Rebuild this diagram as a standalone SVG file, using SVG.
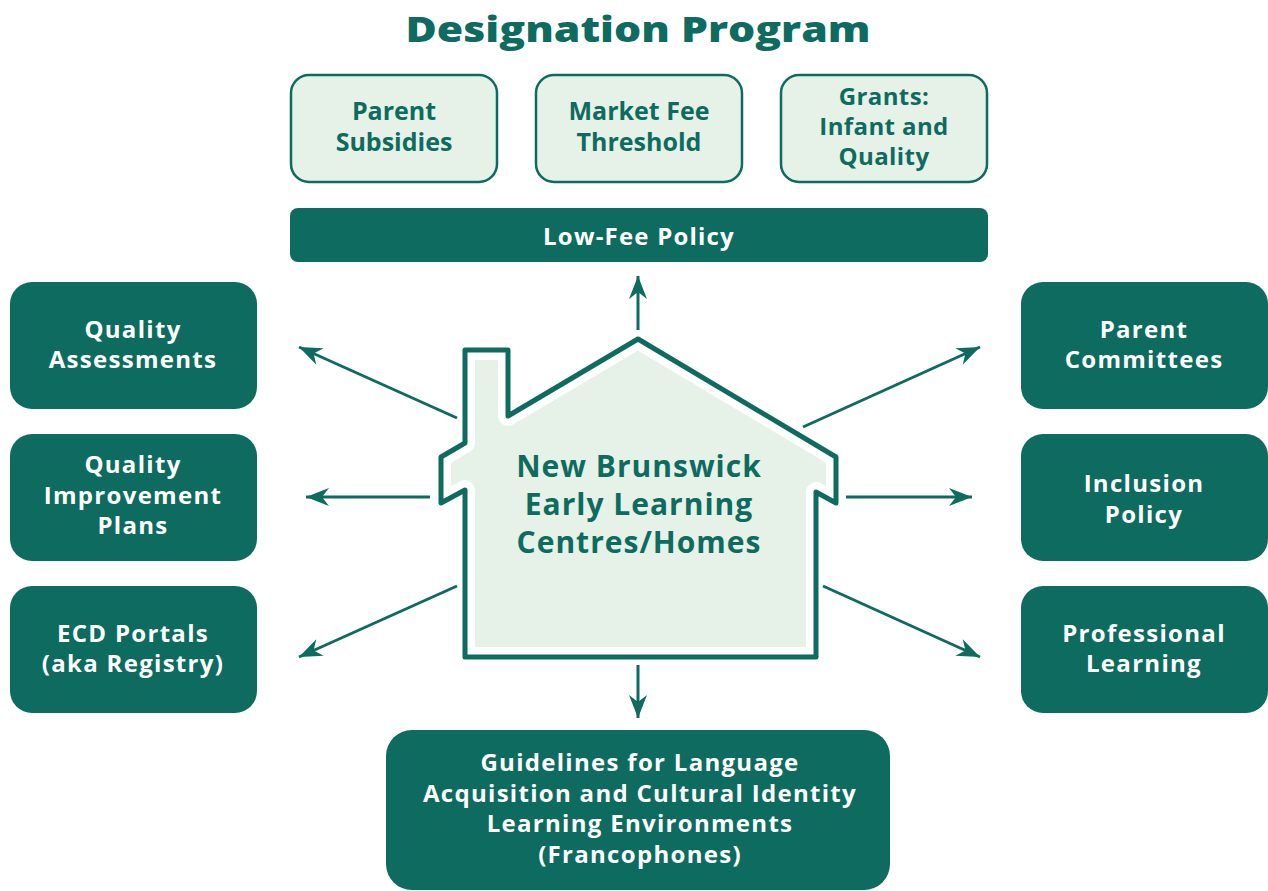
<svg xmlns="http://www.w3.org/2000/svg" width="1268" height="891" viewBox="0 0 1268 891">
<defs>
<style>
.dark{fill:#0e6b5f}
.light{fill:#e6f2e8;stroke:#0e6b5f;stroke-width:2.5}
.wt{fill:#ffffff;font-family:"Open Sans","Liberation Sans",sans-serif;font-weight:700;font-size:24px;letter-spacing:1.3px;text-anchor:middle}
.gt{fill:#0e6b5f;font-family:"Open Sans","Liberation Sans",sans-serif;font-weight:700;font-size:25px;text-anchor:middle}
.conn{stroke:#0e6b5f;stroke-width:3;fill:none;marker-end:url(#ah)}
</style>
<marker id="ah" markerUnits="userSpaceOnUse" viewBox="-24 -10 26 20" refX="0" refY="0" markerWidth="26" markerHeight="20" orient="auto">
<path d="M0,0 L-23,-9 L-16,0 L-23,9 Z" fill="#0e6b5f"/>
</marker>
</defs>
<rect width="1268" height="891" fill="#ffffff"/>
<text x="638" y="42" style="fill:#0e6b5f;font-family:'Open Sans','Liberation Sans',sans-serif;font-weight:800;font-size:36px;text-anchor:middle" textLength="465" lengthAdjust="spacingAndGlyphs">Designation Program</text>

<g id="parent-subsidies">
<rect class="light" x="291" y="75" width="206" height="107" rx="18"/>
<text class="gt" x="394" y="120">Parent</text>
<text class="gt" x="394" y="151">Subsidies</text>
</g>
<g id="market-fee">
<rect class="light" x="536" y="75" width="206" height="107" rx="18"/>
<text class="gt" x="639" y="120">Market Fee</text>
<text class="gt" x="639" y="151">Threshold</text>
</g>
<g id="grants">
<rect class="light" x="781" y="75" width="206" height="107" rx="18"/>
<text class="gt" x="884" y="105" style="font-size:24px;letter-spacing:0.4px">Grants:</text>
<text class="gt" x="884" y="135" style="font-size:24px;letter-spacing:0.4px">Infant and</text>
<text class="gt" x="884" y="165" style="font-size:24px;letter-spacing:0.4px">Quality</text>
</g>
<g id="low-fee">
<rect class="dark" x="290" y="208" width="698" height="54" rx="8"/>
<text class="wt" x="639" y="245" style="font-size:24px;letter-spacing:1.2px">Low-Fee Policy</text>
</g>

<g id="quality-assessments">
<rect class="dark" x="10" y="282" width="247" height="127" rx="22"/>
<text class="wt" x="133" y="338">Quality</text>
<text class="wt" x="133" y="368">Assessments</text>
</g>
<g id="qip">
<rect class="dark" x="10" y="434" width="247" height="127" rx="22"/>
<text class="wt" x="133" y="473">Quality</text>
<text class="wt" x="133" y="504">Improvement</text>
<text class="wt" x="133" y="534">Plans</text>
</g>
<g id="ecd-portals">
<rect class="dark" x="10" y="586" width="247" height="127" rx="22"/>
<text class="wt" x="133" y="642">ECD Portals</text>
<text class="wt" x="133" y="672">(aka Registry)</text>
</g>

<g id="parent-committees">
<rect class="dark" x="1021" y="282" width="247" height="127" rx="22"/>
<text class="wt" x="1144" y="338">Parent</text>
<text class="wt" x="1144" y="368">Committees</text>
</g>
<g id="inclusion">
<rect class="dark" x="1021" y="434" width="247" height="127" rx="22"/>
<text class="wt" x="1144" y="492">Inclusion</text>
<text class="wt" x="1144" y="523">Policy</text>
</g>
<g id="professional">
<rect class="dark" x="1021" y="586" width="247" height="127" rx="22"/>
<text class="wt" x="1144" y="642">Professional</text>
<text class="wt" x="1144" y="672">Learning</text>
</g>

<g id="guidelines">
<rect class="dark" x="386" y="730" width="504" height="160" rx="26"/>
<text class="wt" x="640" y="771">Guidelines for Language</text>
<text class="wt" x="640" y="802">Acquisition and Cultural Identity</text>
<text class="wt" x="640" y="832">Learning Environments</text>
<text class="wt" x="640" y="863">(Francophones)</text>
</g>

<g id="house">
<path d="M465 350 L508 350 L508 416 L638 339 L836 457 L836 503 L816 492 L816 657 L465 657 L465 490 L441 503 L441 457 L465 443 Z" fill="#e6f2e8" stroke="#ffffff" stroke-width="20" stroke-linejoin="round"/>
<path d="M465 350 L508 350 L508 416 L638 339 L836 457 L836 503 L816 492 L816 657 L465 657 L465 490 L441 503 L441 457 L465 443 Z" fill="none" stroke="#0e6b5f" stroke-width="5" stroke-linejoin="round"/>
<text class="gt" x="639" y="477" style="font-size:30px;letter-spacing:1px">New Brunswick</text>
<text class="gt" x="639" y="515" style="font-size:30px;letter-spacing:1px">Early Learning</text>
<text class="gt" x="639" y="553" style="font-size:30px;letter-spacing:1px">Centres/Homes</text>
</g>

<g id="connectors">
<line class="conn" x1="638" y1="330" x2="638" y2="276"/>
<line class="conn" x1="638" y1="665" x2="638" y2="718"/>
<line class="conn" x1="457" y1="418" x2="299" y2="347"/>
<line class="conn" x1="430" y1="497" x2="306" y2="497"/>
<line class="conn" x1="457" y1="586" x2="299" y2="657"/>
<line class="conn" x1="803" y1="427" x2="980" y2="347"/>
<line class="conn" x1="846" y1="497" x2="972" y2="497"/>
<line class="conn" x1="823" y1="586" x2="980" y2="657"/>
</g>
</svg>
